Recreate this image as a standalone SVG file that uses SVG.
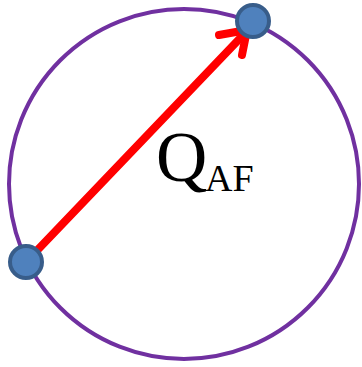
<svg xmlns="http://www.w3.org/2000/svg" width="362" height="367" viewBox="0 0 362 367">
<style>
.ring{fill:none;stroke:#7030A0;stroke-width:4}
.node{fill:#4F81BD;stroke:#385D8A;stroke-width:4}
.edge{fill:none;stroke:#FF0000;stroke-width:8;stroke-linecap:round;stroke-linejoin:round}
.lbl{font-family:"Liberation Serif","Times New Roman",serif;fill:#000}
</style>
<rect width="362" height="367" fill="#fff"/>
<circle class="ring" cx="184" cy="184" r="175"/>
<g id="connectors">
<path class="edge" d="M26,262 L247,31"/>
<path class="edge" d="M219,35 L247,30 L242,55"/>
</g>
<g id="label">
<text class="lbl" x="156" y="181" font-size="71">Q</text>
<text class="lbl" x="205" y="191" font-size="38">AF</text>
</g>
<g id="nodeA"><circle class="node" cx="26" cy="262" r="16"/></g>
<g id="nodeF"><circle class="node" cx="253" cy="21" r="16"/></g>
</svg>
